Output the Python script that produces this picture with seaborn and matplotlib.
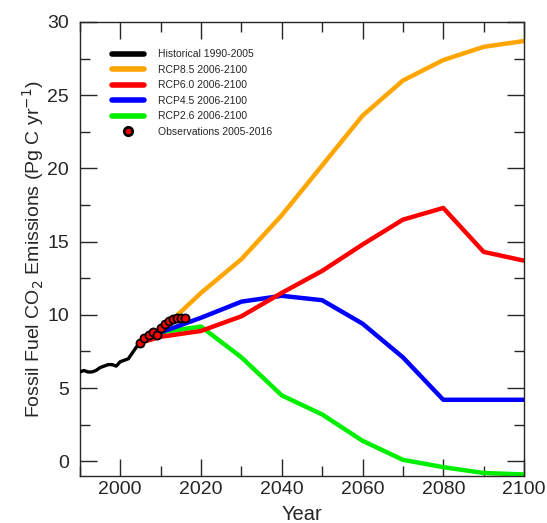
import numpy as np
import pandas as pd
import matplotlib
matplotlib.use('Agg')
import matplotlib.pyplot as plt
import seaborn as sns
from matplotlib.ticker import MultipleLocator
from matplotlib.lines import Line2D

# historical emissions 1990-2005
hist_years = list(range(1990, 2006))
hist_vals = [6.1, 6.2, 6.1, 6.1, 6.2, 6.4, 6.5, 6.6, 6.6, 6.5, 6.8, 6.9, 7.0, 7.4, 7.8, 8.1]

# scenario years
rcp_years = [2005, 2010, 2020, 2030, 2040, 2050, 2060, 2070, 2080, 2090, 2100]
rcp85 = [8.1, 8.9, 11.5, 13.8, 16.8, 20.2, 23.6, 26.0, 27.4, 28.3, 28.7]
rcp60 = [8.1, 8.5, 8.9, 9.9, 11.5, 13.0, 14.8, 16.5, 17.3, 14.3, 13.7]
rcp45 = [8.1, 8.8, 9.8, 10.9, 11.3, 11.0, 9.4, 7.1, 4.2, 4.2, 4.2]
rcp26 = [8.1, 8.8, 9.2, 7.1, 4.5, 3.2, 1.4, 0.1, -0.4, -0.8, -0.9]

# observations 2005-2016
obs_years = list(range(2005, 2017))
obs_vals = [8.1, 8.4, 8.6, 8.8, 8.6, 9.1, 9.4, 9.6, 9.7, 9.8, 9.8, 9.8]

names = ['Historical 1990-2005', 'RCP8.5 2006-2100', 'RCP6.0 2006-2100',
         'RCP4.5 2006-2100', 'RCP2.6 2006-2100']
colors = ['black', '#ffa500', '#ff0000', '#0000ff', '#00ee00']

rows = []
for y, v in zip(hist_years, hist_vals):
    rows.append((names[0], y, v))
for nm, vals in zip(names[1:], [rcp85, rcp60, rcp45, rcp26]):
    for y, v in zip(rcp_years, vals):
        rows.append((nm, y, v))
df = pd.DataFrame(rows, columns=['series', 'year', 'value'])
obs = pd.DataFrame({'year': obs_years, 'value': obs_vals})

sns.set_style('ticks')
plt.rcParams['font.family'] = ['Liberation Sans', 'DejaVu Sans']

fig = plt.figure(figsize=(5.47, 5.23), dpi=100)
ax = fig.add_axes([0.146, 0.09, 0.812, 0.868])

# scenarios first, historical on top
for nm, c in list(zip(names, colors))[::-1]:
    lw = 2.4 if nm == names[0] else 3.2
    sns.lineplot(data=df[df['series'] == nm], x='year', y='value', color=c,
                 lw=lw, ax=ax, legend=False, zorder=3 if nm == names[0] else 2)
sns.scatterplot(data=obs, x='year', y='value', color='red', edgecolor='black',
                linewidth=1.3, s=34, ax=ax, zorder=4, legend=False)

ax.set_xlim(1990, 2100)
ax.set_ylim(-1, 30)
ax.xaxis.set_major_locator(MultipleLocator(20))
ax.xaxis.set_minor_locator(MultipleLocator(10))
ax.yaxis.set_major_locator(MultipleLocator(5))
ax.yaxis.set_minor_locator(MultipleLocator(2.5))
ax.tick_params(which='both', direction='in', top=True, right=True, labelsize=14, width=1)
ax.tick_params(which='major', length=12)
ax.tick_params(which='minor', length=7)
ax.tick_params(axis='y', pad=8)
ax.tick_params(axis='x', pad=4)
for s in ax.spines.values():
    s.set_linewidth(1)

ax.set_xlabel('Year', fontsize=14.5, labelpad=5)
ax.set_ylabel('Fossil Fuel CO$_2$ Emissions (Pg C yr$^{-1}$)', fontsize=14, labelpad=1)

handles = [Line2D([], [], color=c, lw=4) for c in colors]
handles.append(Line2D([], [], marker='o', color='none', markerfacecolor='red',
                      markeredgecolor='black', markeredgewidth=2, markersize=6))
ax.legend(handles, names + ['Observations 2005-2016'], loc='upper left',
          bbox_to_anchor=(0.052, 0.96), frameon=False, fontsize=7.5,
          handlelength=3, handletextpad=1.35, labelspacing=0.52)

fig.savefig('out.png', dpi=100)
